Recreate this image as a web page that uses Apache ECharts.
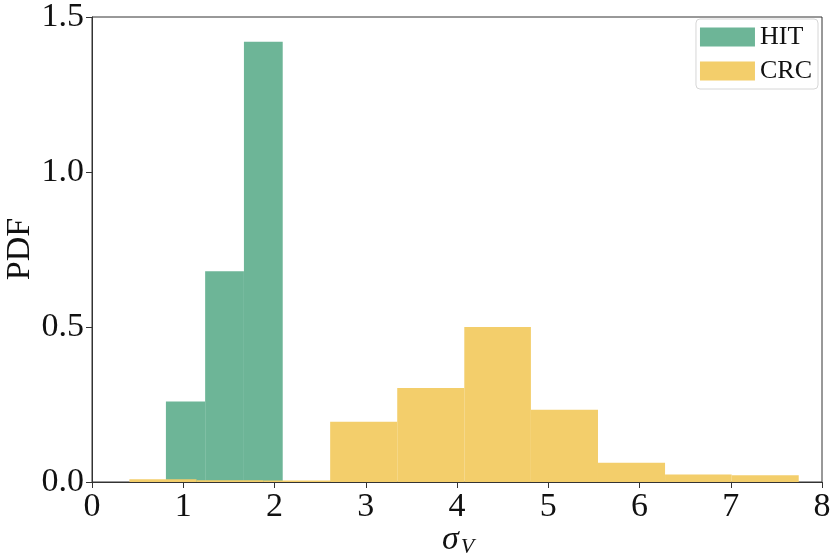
<!DOCTYPE html>
<html>
<head>
    <meta charset="utf-8">
    <title>PDF</title>
    <script src="https://cdn.jsdelivr.net/npm/echarts@6/dist/echarts.min.js"></script>
    <style>
        html, body { margin: 0; padding: 0; background: #fff; }
        #chart1 { width: 830px; height: 554px; }
    </style>
</head>
<body>
<div id="chart1"></div>
<script type="text/javascript">
    // 直方图的边界与密度
    var hitEdges = [0.81, 1.24, 1.665, 2.09];
    var hitDensity = [0.26, 0.68, 1.42];

    var crcEdges = [0.41, 1.145, 1.878, 2.61, 3.345, 4.08, 4.81, 5.545, 6.28, 7.01, 7.745];
    var crcDensity = [0.009, 0.006, 0.005, 0.194, 0.303, 0.50, 0.233, 0.062, 0.024, 0.022];

    var xTicks = [0, 1, 2, 3, 4, 5, 6, 7, 8];
    var yTicks = [0, 0.5, 1.0, 1.5];

    var hitColor = '#6db597';
    var crcColor = '#f3ce6b';
    var font = '"Liberation Serif", "DejaVu Serif", serif';

    function toBins(edges, dens) {
        var out = [];
        for (var i = 0; i < dens.length; i++) {
            out.push([edges[i], edges[i + 1], dens[i]]);
        }
        return out;
    }

    function renderBar(params, api) {
        var p0 = api.coord([api.value(0), api.value(2)]);
        var p1 = api.coord([api.value(1), 0]);
        return {
            type: 'rect',
            shape: { x: p0[0], y: p0[1], width: p1[0] - p0[0], height: p1[1] - p0[1] },
            style: { fill: api.visual('color') }
        };
    }

    var myChart1 = echarts.init(document.getElementById('chart1'));
    myChart1.setOption({
        animation: false,
        grid: { left: 92, right: 8, top: 17, bottom: 72, containLabel: false, outerBoundsMode: 'none', show: true, borderColor: '#333', borderWidth: 1 },
        legend: {
            data: ['HIT', 'CRC'],
            orient: 'vertical',
            right: 12,
            top: 19,
            itemWidth: 55,
            itemHeight: 19,
            itemGap: 8,
            padding: [5, 6, 5, 4],
            borderColor: '#d6d6d6',
            borderWidth: 1,
            borderRadius: 4,
            icon: 'rect',
            textStyle: { fontFamily: font, fontSize: 26, color: '#111' }
        },
        // 坐标轴标题
        graphic: [
            {
                type: 'text',
                x: 20, y: 249,
                rotation: Math.PI / 2,
                style: { text: 'PDF', font: '34px ' + font, fill: '#111', align: 'center', verticalAlign: 'middle' }
            },
            {
                type: 'text',
                x: 458, y: 540,
                style: {
                    text: '{s|σ}{v|V}',
                    align: 'center', verticalAlign: 'middle',
                    rich: {
                        s: { fontFamily: font, fontStyle: 'italic', fontSize: 34, fill: '#111' },
                        v: { fontFamily: font, fontStyle: 'italic', fontSize: 22, fill: '#111', padding: [14, 0, 0, 2] }
                    }
                }
            }
        ],
        xAxis: {
            type: 'value',
            min: xTicks[0],
            max: xTicks[xTicks.length - 1],
            interval: 1,
            splitLine: { show: false },
            axisLine: { show: true, onZero: false, lineStyle: { color: '#333', width: 1 } },
            axisTick: { show: true, inside: false, length: 6, lineStyle: { color: '#333' } },
            axisLabel: { fontFamily: font, fontSize: 34, color: '#111', margin: 8 }
        },
        yAxis: {
            type: 'value',
            min: yTicks[0],
            max: yTicks[yTicks.length - 1],
            interval: 0.5,
            splitLine: { show: false },
            axisLine: { show: true, onZero: false, lineStyle: { color: '#333', width: 1 } },
            axisTick: { show: true, inside: false, length: 6, lineStyle: { color: '#333' } },
            axisLabel: {
                fontFamily: font, fontSize: 34, color: '#111', margin: 8,
                formatter: function (v) { return v.toFixed(1); }
            }
        },
        series: [
            {
                name: 'HIT',
                type: 'custom',
                renderItem: renderBar,
                itemStyle: { color: hitColor },
                encode: { x: [0, 1], y: 2 },
                data: toBins(hitEdges, hitDensity)
            },
            {
                name: 'CRC',
                type: 'custom',
                renderItem: renderBar,
                itemStyle: { color: crcColor },
                encode: { x: [0, 1], y: 2 },
                data: toBins(crcEdges, crcDensity)
            }
        ]
    });
</script>
</body>
</html>
